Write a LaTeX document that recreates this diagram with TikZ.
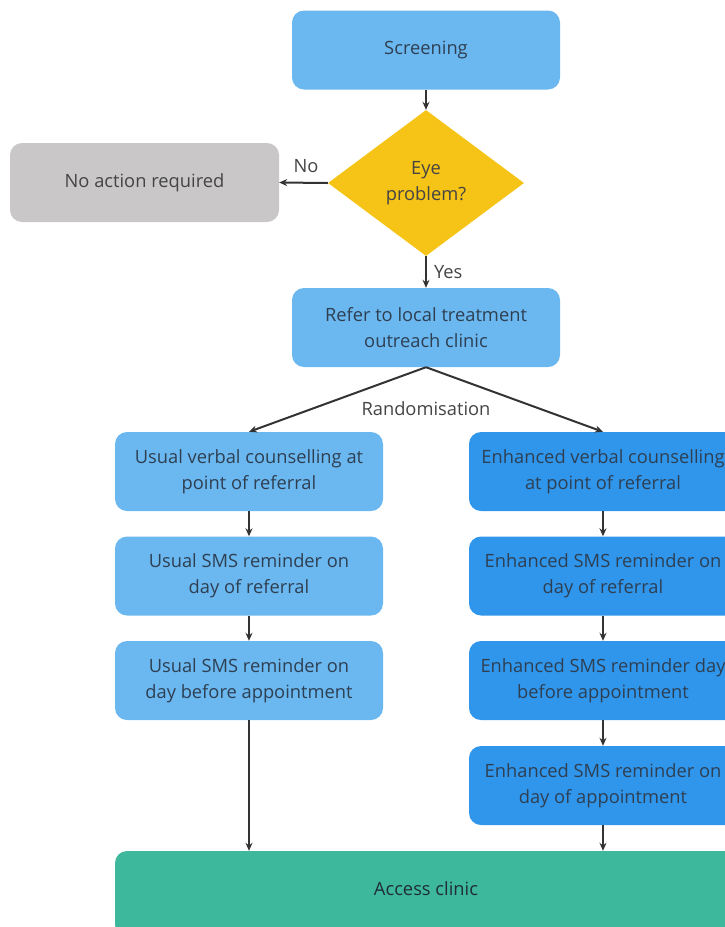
\documentclass[tikz,border=0pt]{standalone}
\usepackage{fontspec}
\setmainfont{Open Sans}
\usetikzlibrary{arrows.meta,shapes.geometric}
\definecolor{lightblue}{HTML}{6BB8F0}
\definecolor{darkblue}{HTML}{3096EC}
\definecolor{greybox}{HTML}{C9C7C7}
\definecolor{yellowd}{HTML}{F5C416}
\definecolor{teal}{HTML}{3DB89C}
\definecolor{txtblue}{HTML}{2E3F52}
\definecolor{txtgrey}{HTML}{444444}
\definecolor{arrowc}{HTML}{333333}
\begin{document}
\begin{tikzpicture}[x=1pt,y=-1pt,
  box/.style={rounded corners=12pt, minimum width=268pt, minimum height=79pt, align=center, inner sep=0pt, font=\fontsize{18.3}{26}\selectfont, text=txtblue},
  lbox/.style={box, fill=lightblue},
  dbox/.style={box, fill=darkblue},
  arr/.style={draw=arrowc, line width=2pt, -{Stealth[length=8pt,width=7pt]}},
  lab/.style={font=\fontsize{18.3}{20}\selectfont, text=txtgrey, inner sep=0pt}
]
\useasboundingbox (0,0) rectangle (725,927);
\clip (0,0) rectangle (725,927);
\node[lbox] (screen) at (426,50) {Screening};
\node[diamond, fill=yellowd, minimum width=196pt, minimum height=146pt, inner sep=0pt, aspect=1.34, align=center, font=\fontsize{18.3}{26}\selectfont, text=txtgrey] (eye) at (426,183) {Eye\\problem?};
\node[box, fill=greybox, minimum width=269pt, text=txtgrey] (noact) at (144.5,182.5) {No action required};
\node[lbox] (refer) at (426,327.5) {Refer to local treatment\\outreach clinic};
\node[lbox] (u1) at (249,471.5) {Usual verbal counselling at\\point of referral};
\node[lbox] (u2) at (249,576) {Usual SMS reminder on\\day of referral};
\node[lbox] (u3) at (249,680.5) {Usual SMS reminder on\\day before appointment};
\node[dbox] (e1) at (603,471.5) {Enhanced verbal counselling\\at point of referral};
\node[dbox] (e2) at (603,576) {Enhanced SMS reminder on\\day of referral};
\node[dbox] (e3) at (603,680.5) {Enhanced SMS reminder day\\before appointment};
\node[dbox] (e4) at (603,785.5) {Enhanced SMS reminder on\\day of appointment};
\node[box, fill=teal, minimum width=622pt, minimum height=86pt, text=txtgrey] (access) at (426,894) {};
\node[lab, text=txtblue!70!black] at (426,889) {Access clinic};
\draw[arr] (screen.south) -- (eye.north);
\draw[arr] (eye.west) -- node[lab, above=9pt, pos=0.45] {No} (noact.east);
\draw[arr] (eye.south) -- node[lab, right=7pt] {Yes} (refer.north);
\draw[arr] (refer.south) -- (u1.north);
\draw[arr] (refer.south) -- (e1.north);
\node[lab] (rand) at (426,409) {Randomisation};
\draw[arr] (u1) -- (u2);
\draw[arr] (u2) -- (u3);
\draw[arr] (u3.south) -- (u3.south |- access.north);
\draw[arr] (e1) -- (e2);
\draw[arr] (e2) -- (e3);
\draw[arr] (e3) -- (e4);
\draw[arr] (e4.south) -- (e4.south |- access.north);
\end{tikzpicture}
\end{document}
